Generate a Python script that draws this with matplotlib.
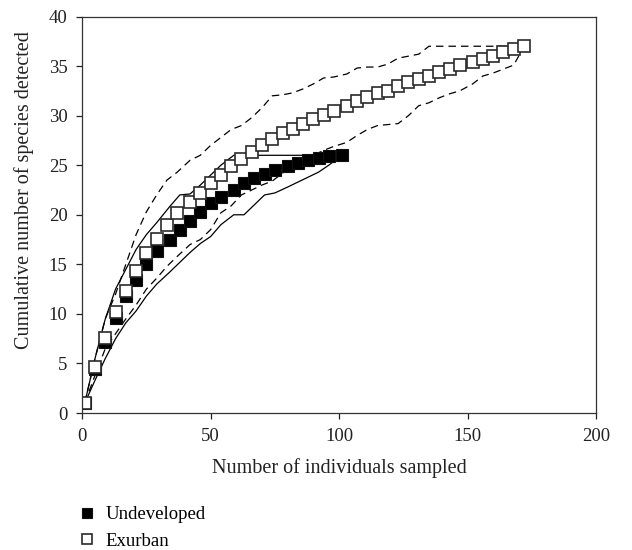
import matplotlib
matplotlib.use("Agg")
import matplotlib.pyplot as plt

plt.rcParams['font.family'] = ['Liberation Serif', 'DejaVu Serif']

# rarefaction curves
x_undev = [1, 5, 9, 13, 17, 21, 25, 29, 34, 38, 42, 46, 50, 54, 59, 63, 67, 71, 75, 80, 84, 88, 92, 96, 101]
y_undev = [1, 4.4, 7.2, 9.6, 11.8, 13.4, 15.0, 16.3, 17.5, 18.5, 19.4, 20.3, 21.2, 21.8, 22.5, 23.2, 23.7,
           24.1, 24.5, 24.9, 25.2, 25.5, 25.7, 25.9, 26.0]
undev_hi = [1, 5.5, 9.5, 12.5, 14.5, 16.5, 18.0, 19.2, 20.8, 22.0, 22.1, 23.0, 24.0, 25.0, 26.0, 26.0, 26.0,
            26.0, 26.0, 26.0, 26.0, 26.0, 26.0, 26.0, 26.0]
undev_lo = [1, 3.3, 5.5, 7.5, 9.1, 10.3, 11.8, 13.0, 14.2, 15.2, 16.2, 17.1, 17.8, 19.0, 20.0, 20.0, 21.0,
            22.0, 22.2, 22.8, 23.3, 23.8, 24.3, 25.0, 26.0]

x_exurb = [1, 5, 9, 13, 17, 21, 25, 29, 33, 37, 42, 46, 50, 54, 58, 62, 66, 70, 74, 78, 82, 86, 90, 94, 98,
           103, 107, 111, 115, 119, 123, 127, 131, 135, 139, 143, 147, 152, 156, 160, 164, 168, 172]
y_exurb = [1, 4.6, 7.6, 10.2, 12.3, 14.3, 16.1, 17.6, 19.0, 20.2, 21.3, 22.2, 23.2, 24.0, 24.9, 25.6, 26.3,
           27.0, 27.6, 28.2, 28.7, 29.2, 29.7, 30.1, 30.5, 31.0, 31.5, 31.9, 32.3, 32.5, 33.0, 33.4, 33.7,
           34.0, 34.4, 34.7, 35.1, 35.4, 35.7, 36.0, 36.4, 36.7, 37.0]
exurb_hi = [1, 5.5, 9.5, 12.0, 15.0, 18.0, 20.3, 22.0, 23.5, 24.3, 25.5, 26.0, 27.0, 27.8, 28.6, 29.0, 29.8,
            30.8, 32.0, 32.1, 32.3, 32.7, 33.2, 33.8, 33.9, 34.2, 34.8, 34.9, 34.9, 35.2, 35.8, 36.0, 36.2,
            37.0, 37.0, 37.0, 37.0, 37.0, 37.0, 37.0, 37.0, 37.0, 37.0]
exurb_lo = [1, 3.8, 6.5, 8.0, 9.5, 10.9, 12.5, 13.6, 14.8, 15.8, 17.0, 17.5, 18.5, 20.2, 20.9, 22.0, 22.5,
            23.0, 23.4, 24.2, 25.0, 25.5, 26.0, 26.5, 26.9, 27.3, 28.0, 28.6, 29.0, 29.1, 29.2, 30.0, 31.0,
            31.3, 31.8, 32.2, 32.5, 33.2, 34.0, 34.3, 34.7, 35.1, 37.0]

fig = plt.figure(figsize=(6.32, 5.5), dpi=100)
ax = fig.add_axes([0.130, 0.249, 0.813, 0.721])

ax.plot(x_undev, undev_hi, color='black', lw=0.9)
ax.plot(x_undev, undev_lo, color='black', lw=0.9)
ax.plot(x_exurb, exurb_hi, color='black', lw=0.9, dashes=(6, 4))
ax.plot(x_exurb, exurb_lo, color='black', lw=0.9, dashes=(6, 4))

h1, = ax.plot(x_undev, y_undev, ls='none', marker='s', ms=8.3, mfc='black', mec='#111111', mew=0.8,
              label='Undeveloped')
h2, = ax.plot(x_exurb, y_exurb, ls='none', marker='s', ms=8.3, mfc='white', mec='#2a2a2a', mew=1.2,
              label='Exurban')

ax.set_xlim(0, 200)
ax.set_ylim(0, 40)
ax.set_xticks([0, 50, 100, 150, 200])
ax.set_yticks(range(0, 41, 5))
ax.tick_params(direction='out', length=4.5, width=0.9, labelsize=13.5, colors='#222222', pad=6)
for s in ax.spines.values():
    s.set_linewidth(0.9)
    s.set_color('#333333')

ax.set_xlabel('Number of individuals sampled', fontsize=14.5, color='#222222', labelpad=10)
ax.set_ylabel('Cumulative number of species detected', fontsize=14.5, color='#222222')
ax.yaxis.set_label_coords(-0.094, 0.563)

fig.legend(handles=[h1, h2], loc='upper left', bbox_to_anchor=(0.114, 0.093), frameon=False,
           fontsize=13.5, handlelength=0.8, handletextpad=0.6, labelspacing=0.5, borderaxespad=0,
           markerscale=0.85)

fig.savefig('out.png', dpi=100)
